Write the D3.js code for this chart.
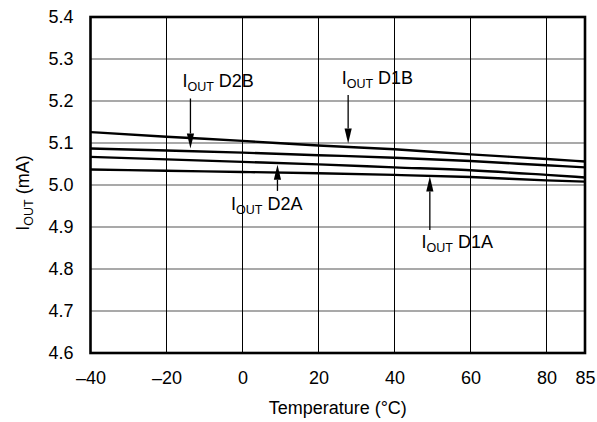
<!DOCTYPE html>
<html>
<head>
<meta charset="utf-8">
<script src="https://cdn.jsdelivr.net/npm/d3@7"></script>
<style>
html,body{margin:0;padding:0;background:#fff;}
svg{display:block;}
text{font-family:"Liberation Sans",Arial,Helvetica,sans-serif;fill:#000;}
</style>
</head>
<body>
<svg id="chart" width="597" height="422"></svg>
<script>
// ---- data ----
const temps = [-40, -20, 0, 20, 40, 60, 80, 85];
const iD1B = [5.126, 5.115, 5.105, 5.094, 5.085, 5.073, 5.062, 5.056];
const iD2B = [5.087, 5.082, 5.077, 5.071, 5.065, 5.057, 5.047, 5.042];
const iD2A = [5.067, 5.061, 5.055, 5.049, 5.042, 5.035, 5.024, 5.018];
const iD1A = [5.037, 5.034, 5.031, 5.028, 5.024, 5.019, 5.011, 5.008];
const seriesNames = ["D1B", "D2B", "D2A", "D1A"];
const xTicks = [-40, -20, 0, 20, 40, 60, 80, 85];
const yTicks = [4.6, 4.7, 4.8, 4.9, 5.0, 5.1, 5.2, 5.3, 5.4];
// annotation labels (data units): text position, arrow x, arrow start, arrow tip
const annNames  = ["D2B", "D1B", "D2A", "D1A"];
const annTextX  = [-15.8, 26.1, -3.0, 47.1];
const annTextY  = [5.233, 5.241, 4.941, 4.849];
const annArrowX = [-13.7, 27.8, 9.2, 49.3];
const annFrom   = [5.206, 5.214, 4.986, 4.893];
const annTip    = [5.087, 5.099, 5.048, 5.020];

// ---- layout ----
const svg = d3.select("#chart");
const L = 90.5, R = 585, T = 17, B = 353;
const x = d3.scaleLinear().domain([-40, 80, 85]).range([L, 546.5, R]);
const y = d3.scaleLinear().domain([4.6, 5.4]).range([B, T]);

// grid
svg.append("g").selectAll("line").data(yTicks.slice(1, -1)).join("line")
  .attr("x1", L).attr("x2", R).attr("y1", d => y(d)).attr("y2", d => y(d))
  .attr("stroke", "#555").attr("stroke-width", 1.1);
svg.append("g").selectAll("line").data(xTicks.slice(1, -1)).join("line")
  .attr("x1", d => x(d)).attr("x2", d => x(d)).attr("y1", T).attr("y2", B)
  .attr("stroke", "#000").attr("stroke-width", 1);

// axes labels via d3 axes (no domain/ticks lines)
const fmtX = d => d < 0 ? "\u2013" + Math.abs(d) : String(d);
const gx = svg.append("g").attr("transform", `translate(0,${B})`)
  .call(d3.axisBottom(x).tickValues(xTicks).tickFormat(fmtX).tickSize(0).tickPadding(18));
gx.select(".domain").remove();
gx.selectAll("text").attr("font-size", 18).attr("font-family", "Liberation Sans, Arial, sans-serif").attr("fill", "#000");

const gy = svg.append("g").attr("transform", `translate(${L},0)`)
  .call(d3.axisLeft(y).tickValues(yTicks).tickFormat(d3.format(".1f")).tickSize(0).tickPadding(17));
gy.select(".domain").remove();
gy.selectAll("text").attr("font-size", 18).attr("font-family", "Liberation Sans, Arial, sans-serif").attr("fill", "#000");

// data lines
const allSeries = [iD1B, iD2B, iD2A, iD1A];
const line = d3.line().x((d, i) => x(temps[i])).y(d => y(d)).curve(d3.curveMonotoneX);
svg.append("g").selectAll("path").data(allSeries).join("path")
  .attr("d", d => line(d))
  .attr("fill", "none").attr("stroke", "#000").attr("stroke-width", 2.4);

// plot border
svg.append("rect").attr("x", L).attr("y", T).attr("width", R - L).attr("height", B - T)
  .attr("fill", "none").attr("stroke", "#000").attr("stroke-width", 2.6);

// annotations
const ann = svg.append("g");
annNames.forEach((name, i) => {
  const ax = x(annArrowX[i]);
  const y0 = y(annFrom[i]), y1 = y(annTip[i]);
  const dir = y1 > y0 ? 1 : -1;
  const headLen = 15, headW = 3.6;
  ann.append("line").attr("x1", ax).attr("x2", ax).attr("y1", y0).attr("y2", y1 - dir * headLen)
    .attr("stroke", "#000").attr("stroke-width", 1.3);
  ann.append("path")
    .attr("d", `M${ax},${y1} L${ax - headW},${y1 - dir * headLen} L${ax + headW},${y1 - dir * headLen} Z`)
    .attr("fill", "#000");
  const t = ann.append("text").attr("x", x(annTextX[i])).attr("y", y(annTextY[i])).attr("font-size", 18);
  t.append("tspan").text("I");
  t.append("tspan").attr("font-size", 12.5).attr("dy", 4).text("OUT");
  t.append("tspan").attr("dy", -4).text(" " + name);
});

// axis titles
svg.append("text").attr("x", (L + R) / 2).attr("y", 414).attr("text-anchor", "middle")
  .attr("font-size", 18).text("Temperature (\u00B0C)");
const yt = svg.append("text").attr("transform", `translate(29,193) rotate(-90)`)
  .attr("text-anchor", "middle").attr("font-size", 18);
yt.append("tspan").text("I");
yt.append("tspan").attr("font-size", 12.5).attr("dy", 4).text("OUT");
yt.append("tspan").attr("dy", -4).text(" (mA)");
</script>
</body>
</html>
